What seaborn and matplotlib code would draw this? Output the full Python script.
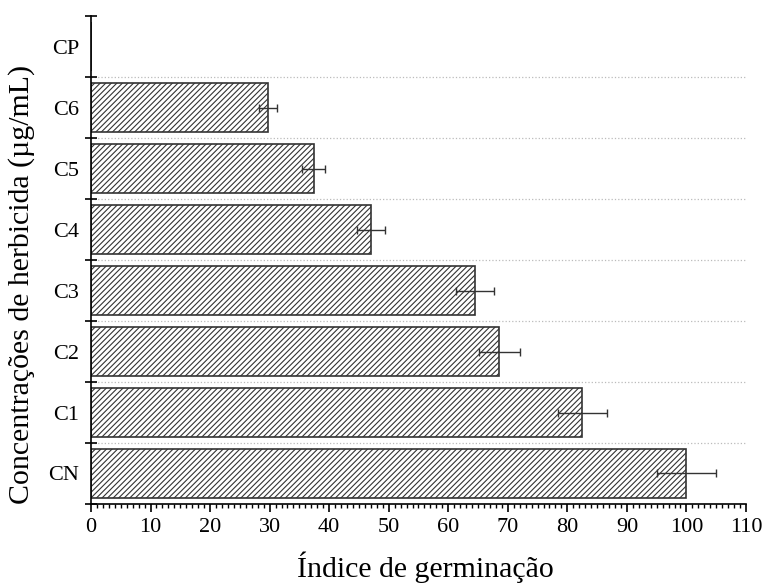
import matplotlib
matplotlib.use("Agg")
import matplotlib.pyplot as plt
from matplotlib.ticker import MultipleLocator, FixedLocator
import numpy as np
import pandas as pd
import seaborn as sns

# germination index per herbicide concentration (top to bottom as drawn)
categories = ['CP', 'C6', 'C5', 'C4', 'C3', 'C2', 'C1', 'CN']
indice = [0, 29.7, 37.4, 47.0, 64.5, 68.6, 82.5, 100.0]
erro = [np.nan, 1.5, 1.9, 2.35, 3.25, 3.5, 4.1, 5.0]

df = pd.DataFrame({'conc': categories, 'indice': indice, 'erro': erro})

sns.set_style('ticks', rc={'text.color': 'black', 'axes.labelcolor': 'black',
                           'xtick.color': 'black', 'ytick.color': 'black',
                           'axes.edgecolor': 'black'})
plt.rcParams['font.family'] = 'serif'
plt.rcParams['font.serif'] = ['Liberation Serif', 'DejaVu Serif']
plt.rcParams['hatch.linewidth'] = 0.8
plt.rcParams['hatch.color'] = '#222222'

fig = plt.figure(figsize=(7.62, 5.87), dpi=100)
ax = fig.add_axes([0.1194, 0.1414, 0.8596, 0.8313])

sns.barplot(data=df, x='indice', y='conc', order=categories, orient='h',
            color='white', edgecolor='#333333', linewidth=1.2, hatch='//////',
            width=0.8, errorbar=None, ax=ax)

# error bars on the category positions seaborn used
pos = np.arange(len(categories))
ax.errorbar(df['indice'], pos, xerr=df['erro'], fmt='none', ecolor='#333333',
            elinewidth=1.0, capsize=3, capthick=1.0)

ax.set_xlim(0, 110)
ax.set_ylim(len(categories) - 0.5, -0.5)
ax.xaxis.set_major_locator(MultipleLocator(10))
ax.xaxis.set_minor_locator(MultipleLocator(1))
ax.tick_params(axis='x', which='major', direction='out', length=6, width=1.2,
               labelsize=16, pad=4)
ax.tick_params(axis='x', which='minor', direction='out', length=3, width=1.0)

# y ticks sit between categories, labels in the middle
ax.yaxis.set_minor_locator(FixedLocator(np.arange(-0.5, len(categories), 1.0)))
ax.tick_params(axis='y', which='major', length=0, labelsize=16, pad=8.5)
ax.tick_params(axis='y', which='minor', direction='inout', length=9, width=1.2)
ax.grid(axis='y', which='minor', linestyle=':', color='#bbbbbb', linewidth=0.9)
ax.grid(axis='x', which='both', visible=False)
ax.grid(axis='y', which='major', visible=False)
minor = ax.yaxis.get_minor_ticks()
minor[0].gridline.set_visible(False)
minor[-1].gridline.set_visible(False)

sns.despine(ax=ax, top=True, right=True)
ax.spines['left'].set_linewidth(1.2)
ax.spines['bottom'].set_linewidth(1.2)

ax.set_xlabel('Índice de germinação', fontsize=21.5)
ax.xaxis.set_label_coords(0.511, -0.098)
ax.xaxis.label.set_va('top')
ax.set_ylabel('Concentrações de herbicida (µg/mL)', fontsize=21.5)
ax.yaxis.set_label_coords(-0.085, 0.45)

fig.savefig('out.png', dpi=100)
